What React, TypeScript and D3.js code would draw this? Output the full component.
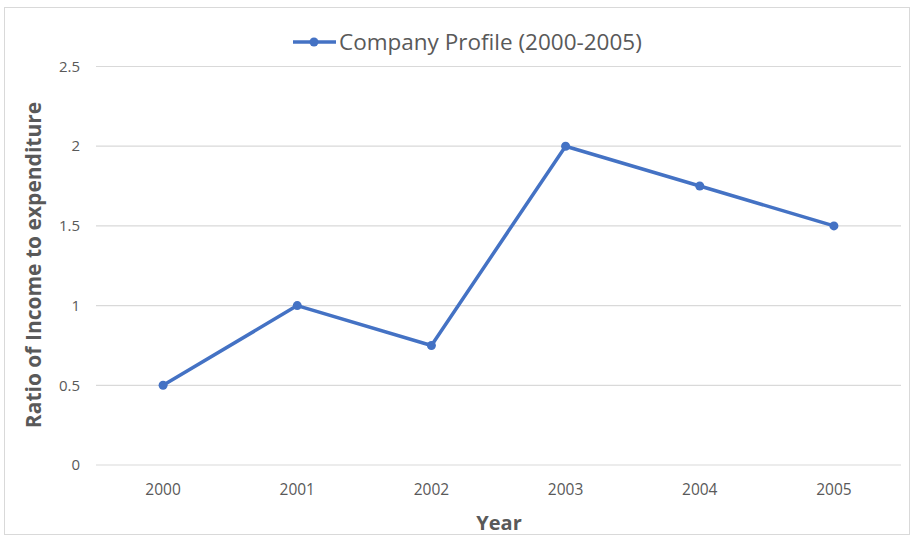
import React from "react";
import * as d3 from "d3";

const years = ["2000", "2001", "2002", "2003", "2004", "2005"];
const ratios = [0.5, 1, 0.75, 2, 1.75, 1.5];
const yTicks = [0, 0.5, 1, 1.5, 2, 2.5];
const seriesName = "Company Profile (2000-2005)";

export default function App() {
  const W = 915, H = 543;
  const x = d3.scaleBand<string>().domain(years).range([96, 901]);
  const y = d3.scaleLinear().domain([0, 2.5]).range([465, 66.5]);
  const cx = (d: string) => (x(d) as number) + x.bandwidth() / 2;
  const line = d3.line<number>().x((_, i) => cx(years[i])).y((d) => y(d));
  const color = "#4472C4";
  const font = "'Open Sans', 'Liberation Sans', sans-serif";
  return (
    <svg width={W} height={H} style={{ position: "absolute", left: 0, top: 0 }} fontFamily={font}>
      <rect x={0} y={0} width={W} height={H} fill="#fff" />
      <rect x={4.5} y={7.5} width={905} height={527} fill="#fff" stroke="#d9d9d9" strokeWidth={1} />
      {yTicks.map((t) => (
        <g key={t}>
          <line x1={96} x2={901} y1={y(t)} y2={y(t)} stroke="#d9d9d9" strokeWidth={1.2} />
          <text x={80} y={y(t)} dy="0.35em" textAnchor="end" fontSize={15} fill="#595959">{t}</text>
        </g>
      ))}
      {years.map((yr) => (
        <text key={yr} x={cx(yr)} y={490} dy="0.35em" textAnchor="middle" fontSize={15.5} fill="#595959">{yr}</text>
      ))}
      <path d={line(ratios) as string} fill="none" stroke={color} strokeWidth={3.5} strokeLinejoin="round" />
      {ratios.map((v, i) => (
        <circle key={i} cx={cx(years[i])} cy={y(v)} r={4.5} fill={color} />
      ))}
      <line x1={293} x2={336} y1={42} y2={42} stroke={color} strokeWidth={3.5} />
      <circle cx={314} cy={42} r={4.5} fill={color} />
      <text x={339} y={42} dy="0.35em" fontSize={22.5} fill="#595959">{seriesName}</text>
      <text transform="translate(41,265) rotate(-90)" textAnchor="middle" fontSize={21} fontWeight="bold" fill="#595959">Ratio of Income to expenditure</text>
      <text x={499} y={530} textAnchor="middle" fontSize={20} fontWeight="bold" fill="#595959">Year</text>
    </svg>
  );
}
